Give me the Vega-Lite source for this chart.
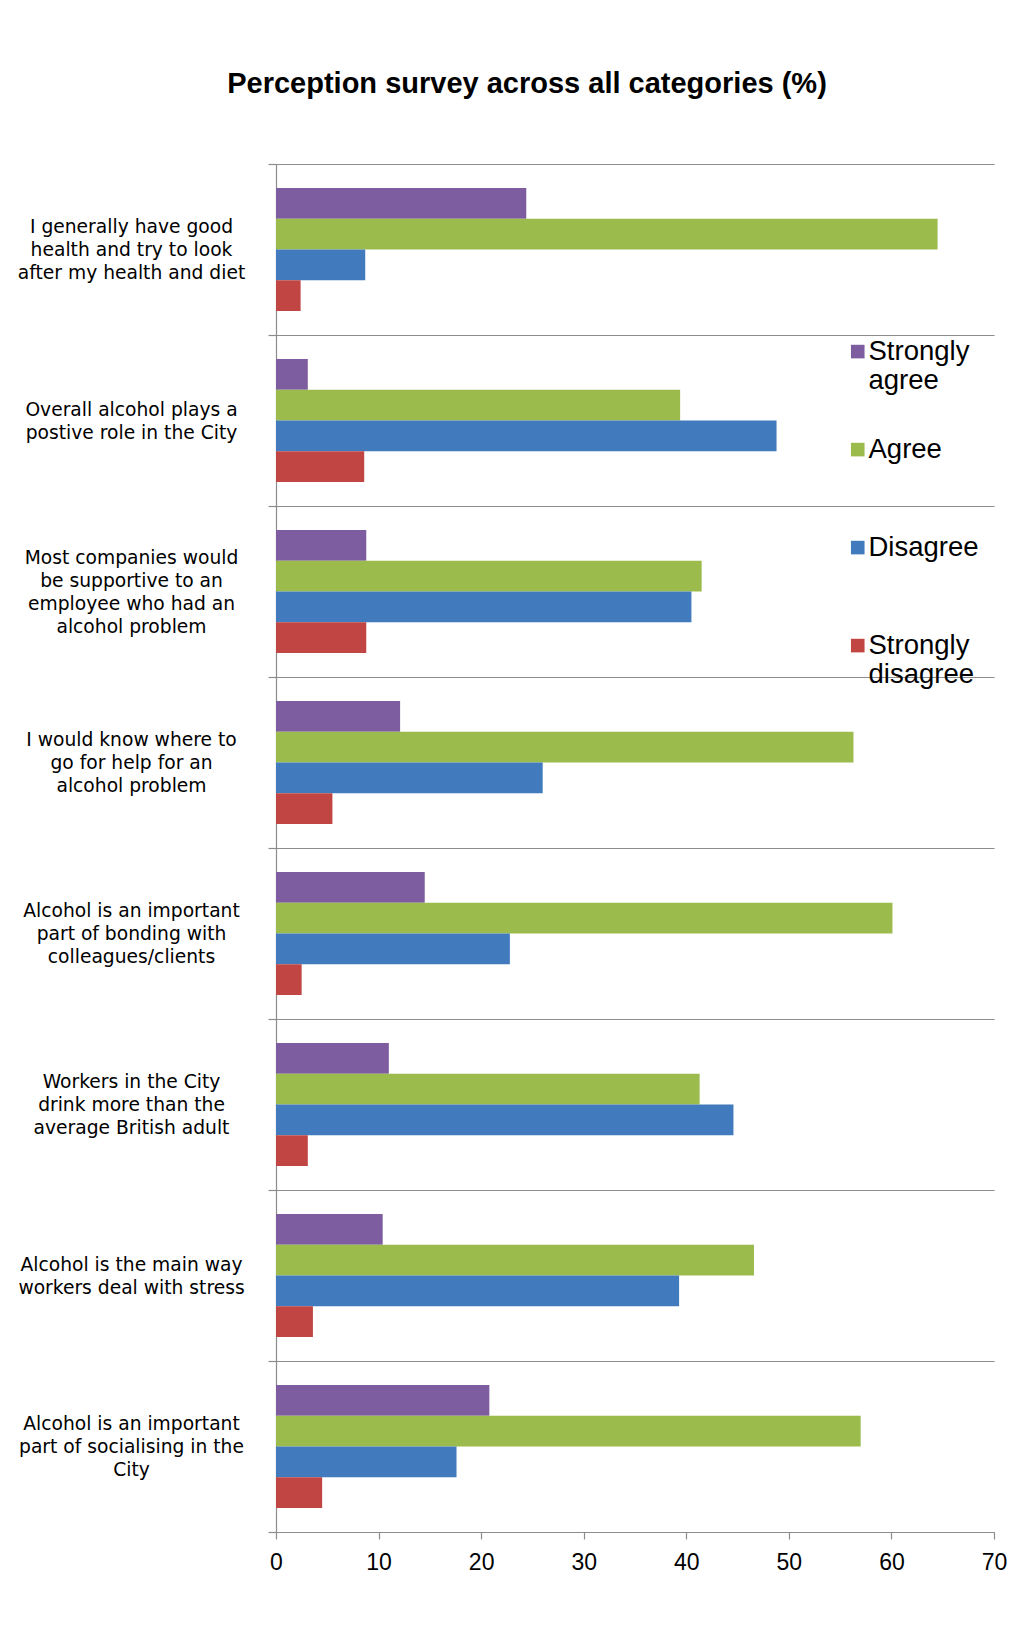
{
  "$schema": "https://vega.github.io/schema/vega-lite/v6.json",
  "width": 718,
  "height": 1368,
  "autosize": {"type": "none"},
  "padding": {"left": 276, "top": 164, "right": 21, "bottom": 103},
  "background": "white",
  "title": {
    "text": "Perception survey across all categories (%)",
    "anchor": "middle",
    "frame": "group",
    "dx": -108,
    "offset": 56,
    "font": "Liberation Sans",
    "fontSize": 29,
    "fontWeight": "bold",
    "color": "black"
  },
  "data": {
    "values": [
      {"statement": "I generally have good|health and try to look|after my health and diet", "response": "Strongly agree", "percent": 24.4},
      {"statement": "I generally have good|health and try to look|after my health and diet", "response": "Agree", "percent": 64.5},
      {"statement": "I generally have good|health and try to look|after my health and diet", "response": "Disagree", "percent": 8.7},
      {"statement": "I generally have good|health and try to look|after my health and diet", "response": "Strongly disagree", "percent": 2.4},
      {"statement": "Overall alcohol plays a|postive role in the City", "response": "Strongly agree", "percent": 3.1},
      {"statement": "Overall alcohol plays a|postive role in the City", "response": "Agree", "percent": 39.4},
      {"statement": "Overall alcohol plays a|postive role in the City", "response": "Disagree", "percent": 48.8},
      {"statement": "Overall alcohol plays a|postive role in the City", "response": "Strongly disagree", "percent": 8.6},
      {"statement": "Most companies would|be supportive to an|employee who had an|alcohol problem", "response": "Strongly agree", "percent": 8.8},
      {"statement": "Most companies would|be supportive to an|employee who had an|alcohol problem", "response": "Agree", "percent": 41.5},
      {"statement": "Most companies would|be supportive to an|employee who had an|alcohol problem", "response": "Disagree", "percent": 40.5},
      {"statement": "Most companies would|be supportive to an|employee who had an|alcohol problem", "response": "Strongly disagree", "percent": 8.8},
      {"statement": "I would know where to|go for help for an|alcohol problem", "response": "Strongly agree", "percent": 12.1},
      {"statement": "I would know where to|go for help for an|alcohol problem", "response": "Agree", "percent": 56.3},
      {"statement": "I would know where to|go for help for an|alcohol problem", "response": "Disagree", "percent": 26.0},
      {"statement": "I would know where to|go for help for an|alcohol problem", "response": "Strongly disagree", "percent": 5.5},
      {"statement": "Alcohol is an important|part of bonding with|colleagues/clients", "response": "Strongly agree", "percent": 14.5},
      {"statement": "Alcohol is an important|part of bonding with|colleagues/clients", "response": "Agree", "percent": 60.1},
      {"statement": "Alcohol is an important|part of bonding with|colleagues/clients", "response": "Disagree", "percent": 22.8},
      {"statement": "Alcohol is an important|part of bonding with|colleagues/clients", "response": "Strongly disagree", "percent": 2.5},
      {"statement": "Workers in the City|drink more than the|average British adult", "response": "Strongly agree", "percent": 11.0},
      {"statement": "Workers in the City|drink more than the|average British adult", "response": "Agree", "percent": 41.3},
      {"statement": "Workers in the City|drink more than the|average British adult", "response": "Disagree", "percent": 44.6},
      {"statement": "Workers in the City|drink more than the|average British adult", "response": "Strongly disagree", "percent": 3.1},
      {"statement": "Alcohol is the main way|workers deal with stress", "response": "Strongly agree", "percent": 10.4},
      {"statement": "Alcohol is the main way|workers deal with stress", "response": "Agree", "percent": 46.6},
      {"statement": "Alcohol is the main way|workers deal with stress", "response": "Disagree", "percent": 39.3},
      {"statement": "Alcohol is the main way|workers deal with stress", "response": "Strongly disagree", "percent": 3.6},
      {"statement": "Alcohol is an important|part of socialising in the|City", "response": "Strongly agree", "percent": 20.8},
      {"statement": "Alcohol is an important|part of socialising in the|City", "response": "Agree", "percent": 57.0},
      {"statement": "Alcohol is an important|part of socialising in the|City", "response": "Disagree", "percent": 17.6},
      {"statement": "Alcohol is an important|part of socialising in the|City", "response": "Strongly disagree", "percent": 4.5}
    ]
  },
  "mark": {"type": "bar"},
  "encoding": {
    "y": {
      "field": "statement",
      "type": "nominal",
      "sort": null,
      "scale": {"paddingInner": 0, "paddingOuter": 0},
      "axis": {
        "title": null,
        "tickBand": "extent",
        "grid": true,
        "gridColor": "#8c8c8c",
        "gridWidth": 1.2,
        "domainColor": "#8c8c8c",
        "domainWidth": 1.2,
        "tickColor": "#8c8c8c",
        "tickWidth": 1.2,
        "tickSize": 8,
        "labelPadding": 137,
        "labelAlign": "center",
        "labelBaseline": "middle",
        "labelOffset": {
          "condition": [
            {"test": "length(split(datum.label, '|')) == 2", "value": -11.5},
            {"test": "length(split(datum.label, '|')) == 4", "value": -34.5}
          ],
          "value": -23
        },
        "labelFont": "DejaVu Sans",
        "labelFontSize": 18.7,
        "labelColor": "black",
        "labelLineHeight": 23,
        "labelLimit": 0,
        "labelExpr": "split(datum.label, '|')"
      }
    },
    "yOffset": {
      "field": "response",
      "type": "nominal",
      "sort": ["Strongly agree", "Agree", "Disagree", "Strongly disagree"],
      "scale": {"paddingInner": 0, "paddingOuter": 0.78}
    },
    "x": {
      "field": "percent",
      "type": "quantitative",
      "scale": {"domain": [0, 70], "nice": false},
      "axis": {
        "title": null,
        "grid": false,
        "values": [0, 10, 20, 30, 40, 50, 60, 70],
        "domainColor": "#8c8c8c",
        "domainWidth": 1.2,
        "tickColor": "#8c8c8c",
        "tickWidth": 1.2,
        "tickSize": 7,
        "labelPadding": 12,
        "labelFont": "Liberation Sans",
        "labelFontSize": 23,
        "labelColor": "black",
        "labelFlush": false
      }
    },
    "color": {
      "field": "response",
      "type": "nominal",
      "scale": {
        "domain": ["Strongly agree", "Agree", "Disagree", "Strongly disagree"],
        "range": ["#7D5C9F", "#9BBB4D", "#417BBE", "#C04543"]
      },
      "legend": {
        "title": null,
        "orient": "none",
        "legendX": 568,
        "legendY": 182,
        "gridAlign": "all",
        "rowPadding": 40,
        "symbolType": "M-1,-2.2H1V-0.2H-1Z",
        "symbolSize": 185,
        "symbolStrokeWidth": 0,
        "labelBaseline": "alphabetic",
        "labelOffset": -3,
        "labelFont": "Liberation Sans",
        "labelFontSize": 27.5,
        "labelColor": "black",
        "labelLimit": 0,
        "labelExpr": "split(datum.label, ' ')"
      }
    }
  },
  "config": {
    "view": {"stroke": null},
    "style": {"guide-label": {"lineHeight": 29}}
  }
}
